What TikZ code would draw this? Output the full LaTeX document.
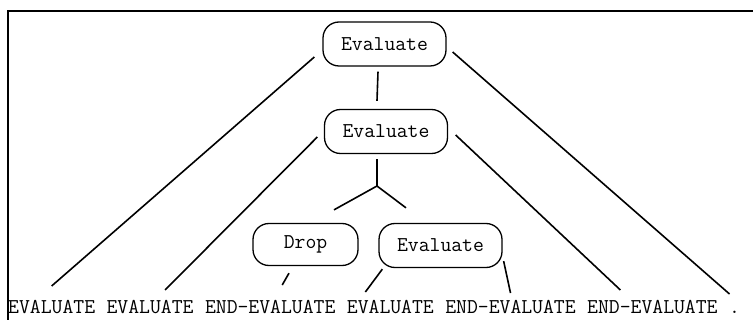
\documentclass[tikz,border=0pt]{standalone}
\usepackage{fontspec}
\newfontfamily\codefont{Latin Modern Mono}
\usetikzlibrary{positioning}
\begin{document}
\begin{tikzpicture}[x=1pt, y=-1pt,
		every node/.style={font=\codefont\fontsize{21.1}{25}\selectfont},
		box/.style={draw, line width=1.3pt, rounded corners=16pt, minimum width=123pt, minimum height=44pt, inner sep=0pt},
		word/.style={inner sep=0pt},
		edge/.style={line width=1.6pt}]
	\useasboundingbox (0,0) rectangle (753,320);
	% ------------------ frame ------------------
	\draw[line width=1.4pt] (8,320) -- (8,11) -- (753,11);
	
	% ------------------ parse nodes ------------------
	\node[box] (top) at (384.5,44) {Evaluate};
	\node[box] (mid) at (386,131.5) {Evaluate};
	\node[box, minimum width=105pt, minimum height=42pt] (drop) at (305.5,244.5) {Drop};
	\node[box] (sub) at (440.5,245.5) {Evaluate};
	\coordinate (fork) at (377,186);
	
	% ------------------ token row ------------------
	\node[word, anchor=base west] (t1) at (8,314) {EVALUATE};
	\node[word, base right=11.08pt of t1] (t2) {EVALUATE};
	\node[word, base right=11.08pt of t2] (t3) {END-EVALUATE};
	\node[word, base right=11.08pt of t3] (t4) {EVALUATE};
	\node[word, base right=11.08pt of t4] (t5) {END-EVALUATE};
	\node[word, base right=11.08pt of t5] (t6) {END-EVALUATE};
	\node[word, base right=11.08pt of t6] (t7) {.};
	
	% ------------------ tree lines ------------------
	\draw[edge] ([xshift=-8pt,yshift=-13pt]top.west) -- ([yshift=28pt]t1.base);
	\draw[edge] ([xshift=6pt,yshift=-8pt]top.east) -- ([xshift=-5pt,yshift=20pt]t7.base);
	\draw[edge] ([xshift=-6.5pt,yshift=-5pt]top.south) -- ([xshift=-9pt,yshift=8pt]mid.north);
	
	\draw[edge] ([xshift=-6.5pt,yshift=-5.5pt]mid.west) -- ([xshift=15pt,yshift=24pt]t2.base);
	\draw[edge] ([xshift=7.5pt,yshift=-3.5pt]mid.east) -- ([xshift=-32pt,yshift=24pt]t6.base);
	\draw[edge] ([xshift=-9pt,yshift=-5pt]mid.south) -- (fork);
	\draw[edge] (fork) -- ([xshift=28.5pt,yshift=13pt]drop.north);
	\draw[edge] (fork) -- ([xshift=-34.5pt,yshift=15pt]sub.north);
	
	\draw[edge] ([xshift=-16.5pt,yshift=-7pt]drop.south) -- ([xshift=12pt,yshift=29pt]t3.base);
	\draw[edge] ([xshift=4pt,yshift=-1pt]sub.south west) -- ([xshift=-25pt,yshift=22pt]t4.base);
	\draw[edge] ([xshift=1pt,yshift=7pt]sub.south east) -- ([yshift=21pt]t5.base);
\end{tikzpicture}
\end{document}
